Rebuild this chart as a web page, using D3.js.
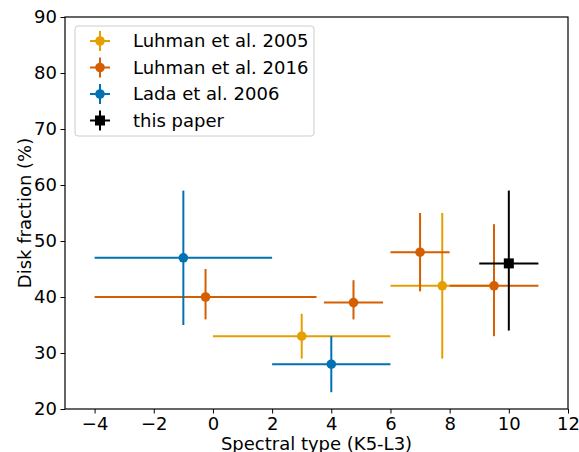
<!DOCTYPE html>
<html>
<head>
<meta charset="utf-8">
<script src="https://cdn.jsdelivr.net/npm/d3@7"></script>
<style>
  body { margin: 0; background: #fff; }
  svg { display: block; font-family: "DejaVu Sans", sans-serif; }
</style>
</head>
<body>
<svg id="chart" width="579" height="452"></svg>
<script>
// data: point, then lower / upper ends of each error bar
var seriesNames = ["Luhman et al. 2005", "Luhman et al. 2016", "Lada et al. 2006", "this paper"];
var seriesColors = ["#E69F00", "#D55E00", "#0072B2", "#000000"];
var seriesMarkers = ["circle", "circle", "circle", "square"];

var luhman2005_x = [3, 7.75];
var luhman2005_y = [33, 42];
var luhman2005_xlo = [0, 6];
var luhman2005_xhi = [6, 9.5];
var luhman2005_ylo = [29, 29];
var luhman2005_yhi = [37, 55];

var luhman2016_x = [-0.25, 4.75, 7, 9.5];
var luhman2016_y = [40, 39, 48, 42];
var luhman2016_xlo = [-4, 3.75, 6, 8];
var luhman2016_xhi = [3.5, 5.75, 8, 11];
var luhman2016_ylo = [36, 36, 41, 33];
var luhman2016_yhi = [45, 43, 55, 53];

var lada2006_x = [-1, 4];
var lada2006_y = [47, 28];
var lada2006_xlo = [-4, 2];
var lada2006_xhi = [2, 6];
var lada2006_ylo = [35, 23];
var lada2006_yhi = [59, 33];

var thisPaper_x = [10];
var thisPaper_y = [46];
var thisPaper_xlo = [9];
var thisPaper_xhi = [11];
var thisPaper_ylo = [34];
var thisPaper_yhi = [59];

var xTicks = [-4, -2, 0, 2, 4, 6, 8, 10, 12];
var yTicks = [20, 30, 40, 50, 60, 70, 80, 90];

function pack(x, y, xlo, xhi, ylo, yhi) {
    return x.map(function (d, i) {
        return {x: d, y: y[i], xlo: xlo[i], xhi: xhi[i], ylo: ylo[i], yhi: yhi[i]};
    });
}
var allSeries = [
    pack(luhman2005_x, luhman2005_y, luhman2005_xlo, luhman2005_xhi, luhman2005_ylo, luhman2005_yhi),
    pack(luhman2016_x, luhman2016_y, luhman2016_xlo, luhman2016_xhi, luhman2016_ylo, luhman2016_yhi),
    pack(lada2006_x, lada2006_y, lada2006_xlo, lada2006_xhi, lada2006_ylo, lada2006_yhi),
    pack(thisPaper_x, thisPaper_y, thisPaper_xlo, thisPaper_xhi, thisPaper_ylo, thisPaper_yhi)
];

var plotLeft = 65, plotRight = 568, plotTop = 17, plotBottom = 409;
var fontSize = 18;

var svg = d3.select("#chart");
var xScale = d3.scaleLinear().domain([-5, 12]).range([plotLeft, plotRight]);
var yScale = d3.scaleLinear().domain([20, 90]).range([plotBottom, plotTop]);

// axes
var xAxis = svg.append("g")
    .attr("transform", "translate(0," + plotBottom + ")")
    .call(d3.axisBottom(xScale).tickValues(xTicks).tickSize(4.5).tickPadding(3.5).tickSizeOuter(0));
var yAxis = svg.append("g")
    .attr("transform", "translate(" + plotLeft + ",0)")
    .call(d3.axisLeft(yScale).tickValues(yTicks).tickSize(4.5).tickPadding(3.5).tickSizeOuter(0));
[xAxis, yAxis].forEach(function (g) {
    g.attr("font-size", fontSize).attr("font-family", "DejaVu Sans");
    g.selectAll("text").attr("fill", "#000");
    g.selectAll("line").attr("stroke", "#000").attr("stroke-width", 1);
    g.select(".domain").remove();
});

// frame
svg.append("rect")
    .attr("x", plotLeft).attr("y", plotTop)
    .attr("width", plotRight - plotLeft).attr("height", plotBottom - plotTop)
    .attr("fill", "none").attr("stroke", "#000").attr("stroke-width", 1.2);

// axis labels
svg.append("text")
    .attr("x", (plotLeft + plotRight) / 2).attr("y", 449.5)
    .attr("text-anchor", "middle").attr("font-size", fontSize)
    .text("Spectral type (K5-L3)");
svg.append("text")
    .attr("transform", "translate(31," + ((plotTop + plotBottom) / 2) + ") rotate(-90)")
    .attr("text-anchor", "middle").attr("font-size", fontSize)
    .text("Disk fraction (%)");

// error bars + markers
allSeries.forEach(function (data, s) {
    var g = svg.append("g");
    var col = seriesColors[s];
    g.selectAll(".xerr").data(data).enter().append("line")
        .attr("x1", d => xScale(d.xlo)).attr("x2", d => xScale(d.xhi))
        .attr("y1", d => yScale(d.y)).attr("y2", d => yScale(d.y))
        .attr("stroke", col).attr("stroke-width", 2);
    g.selectAll(".yerr").data(data).enter().append("line")
        .attr("x1", d => xScale(d.x)).attr("x2", d => xScale(d.x))
        .attr("y1", d => yScale(d.ylo)).attr("y2", d => yScale(d.yhi))
        .attr("stroke", col).attr("stroke-width", 2);
    if (seriesMarkers[s] == "square") {
        g.selectAll(".mk").data(data).enter().append("rect")
            .attr("x", d => xScale(d.x) - 5).attr("y", d => yScale(d.y) - 5)
            .attr("width", 10).attr("height", 10).attr("fill", col);
    } else {
        g.selectAll(".mk").data(data).enter().append("circle")
            .attr("cx", d => xScale(d.x)).attr("cy", d => yScale(d.y))
            .attr("r", 4.8).attr("fill", col);
    }
});

// legend
var legend = svg.append("g");
legend.append("rect")
    .attr("x", 75).attr("y", 26).attr("width", 239).attr("height", 110).attr("rx", 3)
    .attr("fill", "#fff").attr("fill-opacity", 0.8)
    .attr("stroke", "#cccccc").attr("stroke-width", 1);
var rowY = [41, 67.5, 94, 120.5];
seriesNames.forEach(function (name, i) {
    var cy = rowY[i], cx = 100, col = seriesColors[i];
    legend.append("line").attr("x1", cx - 10).attr("x2", cx + 10).attr("y1", cy).attr("y2", cy)
        .attr("stroke", col).attr("stroke-width", 2);
    legend.append("line").attr("x1", cx).attr("x2", cx).attr("y1", cy - 10).attr("y2", cy + 10)
        .attr("stroke", col).attr("stroke-width", 2);
    if (seriesMarkers[i] == "square") {
        legend.append("rect").attr("x", cx - 5).attr("y", cy - 5).attr("width", 10).attr("height", 10).attr("fill", col);
    } else {
        legend.append("circle").attr("cx", cx).attr("cy", cy).attr("r", 4.8).attr("fill", col);
    }
    legend.append("text").attr("x", 133).attr("y", cy).attr("dy", "0.36em")
        .attr("font-size", fontSize).text(name);
});
</script>
</body>
</html>
